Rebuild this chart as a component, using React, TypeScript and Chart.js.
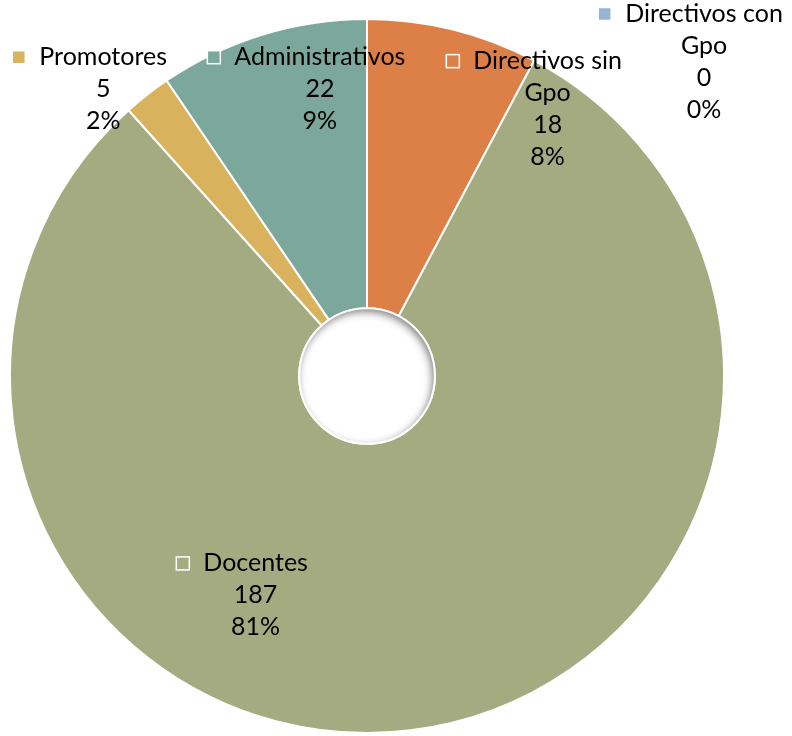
import React, { useEffect, useRef } from "react";
import { Chart, registerables } from "chart.js";

Chart.register(...registerables);

const categories = ["Directivos con Gpo", "Directivos sin Gpo", "Docentes", "Promotores", "Administrativos"];
const values = [0, 18, 187, 5, 22];
const colors = ["#94B6D2", "#DD8047", "#A5AB81", "#D8B25C", "#7BA79D"];
// label block anchor (center of first line), relative to the doughnut centre, in units of the outer radius
const labelDx = [0.944, 0.506, -0.312, -0.739, -0.132];
const labelDy = [-1.014, -0.882, 0.525, -0.893, -0.893];

const FONT = "25px Lato";
const LINE_H = 32;
const WRAP_W = 182;

function wrap(ctx: CanvasRenderingContext2D, text: string): string[] {
  const words = text.split(" ");
  const lines: string[] = [];
  let cur = "";
  for (const w of words) {
    const test = cur ? cur + " " + w : w;
    if (cur && ctx.measureText(test).width > WRAP_W) {
      lines.push(cur);
      cur = w;
    } else cur = test;
  }
  if (cur) lines.push(cur);
  return lines;
}

const labelPlugin = {
  id: "sliceLabels",
  afterDatasetsDraw(chart: any) {
    const ctx: CanvasRenderingContext2D = chart.ctx;
    const meta = chart.getDatasetMeta(0);
    const arc0 = meta.data[0];
    const cx = arc0.x;
    const cy = arc0.y;
    const R = arc0.outerRadius;
    const r = arc0.innerRadius;

    // inner shadow of the hole
    ctx.save();
    ctx.beginPath();
    ctx.arc(cx, cy, r, 0, Math.PI * 2);
    ctx.clip();
    ctx.beginPath();
    ctx.arc(cx, cy, r + 10, 0, Math.PI * 2);
    ctx.lineWidth = 20;
    ctx.strokeStyle = "#000";
    ctx.shadowColor = "rgba(0,0,0,0.55)";
    ctx.shadowBlur = 8;
    ctx.shadowOffsetX = -2;
    ctx.shadowOffsetY = 3;
    ctx.stroke();
    ctx.restore();
    ctx.save();
    ctx.beginPath();
    ctx.arc(cx, cy, r, 0, Math.PI * 2);
    ctx.lineWidth = 2;
    ctx.strokeStyle = "#fff";
    ctx.stroke();
    ctx.restore();

    const total = values.reduce((a, b) => a + b, 0);
    ctx.save();
    ctx.font = FONT;
    ctx.fillStyle = "#000";
    ctx.textAlign = "center";
    ctx.textBaseline = "middle";
    categories.forEach((cat, i) => {
      const x = cx + labelDx[i] * R;
      const y = cy + labelDy[i] * R;
      const lines = [...wrap(ctx, cat), String(values[i]), Math.round((values[i] / total) * 100) + "%"];
      lines.forEach((ln, k) => {
        ctx.fillText(ln, x, y + k * LINE_H);
      });
      const w0 = ctx.measureText(lines[0]).width;
      const ks = 13;
      const kx = x - w0 / 2 - 14 - ks;
      ctx.fillStyle = colors[i];
      ctx.fillRect(kx, y - ks / 2, ks, ks);
      ctx.strokeStyle = "#fff";
      ctx.lineWidth = 1.5;
      ctx.strokeRect(kx, y - ks / 2, ks, ks);
      ctx.fillStyle = "#000";
    });
    ctx.restore();
  },
};

export default function App() {
  const ref = useRef<HTMLCanvasElement | null>(null);
  useEffect(() => {
    if (!ref.current) return;
    const chart = new Chart(ref.current, {
      type: "doughnut",
      data: {
        labels: categories,
        datasets: [
          {
            data: values,
            backgroundColor: colors,
            borderColor: "#fff",
            borderWidth: 2,
          },
        ],
      },
      options: {
        animation: false,
        responsive: true,
        maintainAspectRatio: false,
        cutout: "19%",
        layout: { padding: { left: 9, top: 18, right: 67, bottom: 2 } },
        plugins: { legend: { display: false }, tooltip: { enabled: false } },
      },
      plugins: [labelPlugin],
    });
    return () => chart.destroy();
  }, []);
  return (
    <div style={{ position: "fixed", left: 0, top: 0, width: 792, height: 736, background: "#fff" }}>
      <canvas ref={ref} />
    </div>
  );
}
